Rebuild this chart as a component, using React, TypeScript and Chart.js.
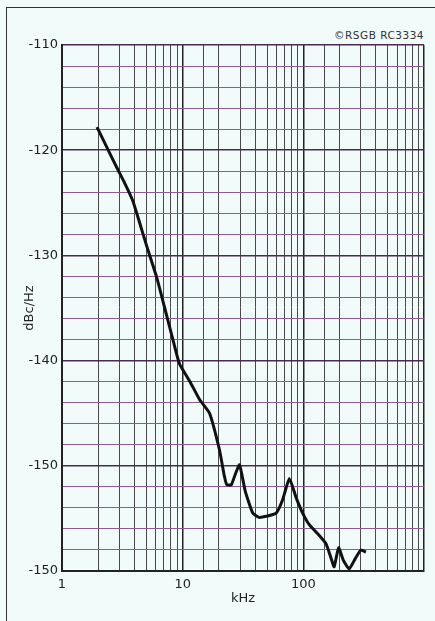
import React, { useEffect, useRef } from "react";
import { Chart, registerables } from "chart.js";

Chart.register(...registerables);

// Offset frequency (kHz)
const freqKHz = [1.95, 2.35, 2.83, 3.3, 3.86, 4.4, 5.0, 6.06, 7.1, 8.3, 9.4, 11.5, 13.8, 16.7, 20.2, 22.0, 23.2, 25.3, 27.3, 29.6, 33.0, 38.1, 43.0, 49.2, 59.5, 67.5, 76.6, 87.0, 98.7, 112, 135, 154, 170, 180, 196, 215, 240, 270, 300, 330];
// Phase noise (dBc/Hz)
const noiseDbc = [-117.8, -119.7, -121.6, -123.1, -124.8, -126.9, -129.0, -132.0, -135.0, -138.0, -140.3, -142.0, -143.7, -145.0, -148.5, -150.8, -151.8, -151.8, -150.8, -149.9, -152.4, -154.5, -154.9, -154.8, -154.5, -153.2, -151.2, -153.0, -154.5, -155.6, -156.6, -157.4, -158.8, -159.6, -157.8, -159.0, -159.8, -158.8, -158.0, -158.2];

const yTickValues = [-110, -120, -130, -140, -150, -160];
const yTickLabels = ["-110", "-120", "-130", "-140", "-150", "-150"];
const xTickValues = [1, 10, 100];
const xTickLabels = ["1", "10", "100"];

export default function App() {
  const canvasRef = useRef<HTMLCanvasElement | null>(null);

  useEffect(() => {
    const canvas = canvasRef.current;
    if (!canvas) return;
    const font = { family: "'DejaVu Sans', sans-serif", size: 13 };
    const chart = new Chart(canvas, {
      type: "scatter",
      data: {
        datasets: [
          {
            data: freqKHz.map((f, i) => ({ x: f, y: noiseDbc[i] })),
            showLine: true,
            borderColor: "#111",
            borderWidth: 3,
            pointRadius: 0,
            tension: 0.15,
            fill: false,
          },
        ],
      },
      options: {
        animation: false,
        responsive: false,
        maintainAspectRatio: false,
        layout: { padding: { left: 18, top: 45, right: 11, bottom: 11 } },
        plugins: { legend: { display: false }, tooltip: { enabled: false } },
        scales: {
          x: {
            type: "logarithmic",
            min: 1,
            max: 1000,
            afterFit: (s: any) => {
              s.height = 39;
            },
            border: { display: true, color: "#222", width: 2 },
            grid: {
              drawTicks: false,
              color: (ctx: any) => {
                const v = ctx.tick ? ctx.tick.value : 0;
                const m = Math.log10(v);
                return Math.abs(m - Math.round(m)) < 1e-6 ? "#222" : "#4a4a4a";
              },
              lineWidth: (ctx: any) => {
                const v = ctx.tick ? ctx.tick.value : 0;
                const m = Math.log10(v);
                return Math.abs(m - Math.round(m)) < 1e-6 ? 1.5 : 1;
              },
            },
            ticks: {
              autoSkip: false,
              maxRotation: 0,
              padding: 6,
              color: "#222",
              font,
              callback: (v: any) => {
                const idx = xTickValues.indexOf(Number(v));
                return idx >= 0 ? xTickLabels[idx] : "";
              },
            },
            title: { display: true, text: "kHz", color: "#222", font, padding: { top: 4, bottom: 4 } },
          },
          y: {
            min: -160,
            max: -110,
            afterFit: (s: any) => {
              s.width = 44;
            },
            border: { display: true, color: "#222", width: 2 },
            grid: {
              drawTicks: false,
              color: (ctx: any) => {
                const v = ctx.tick ? ctx.tick.value : 0;
                return v % 10 === 0 ? "#4a2a55" : "#8e5a96";
              },
              lineWidth: (ctx: any) => {
                const v = ctx.tick ? ctx.tick.value : 0;
                return v % 10 === 0 ? 1.5 : 1;
              },
            },
            ticks: {
              stepSize: 2,
              autoSkip: false,
              padding: 4,
              color: "#222",
              font,
              callback: (v: any) => {
                const idx = yTickValues.indexOf(Number(v));
                return idx >= 0 ? yTickLabels[idx] : "";
              },
            },
            title: { display: true, text: "dBc/Hz", color: "#222", font, padding: { top: 4, bottom: 4 } },
          },
        },
      },
    });
    return () => chart.destroy();
  }, []);

  return (
    <div style={{ position: "fixed", left: 0, top: 0, width: 435, height: 621, background: "#f1fbfa", overflow: "hidden" }}>
      <div style={{ position: "absolute", left: 6, top: 7, width: 440, height: 640, borderLeft: "1.5px solid #333", borderTop: "1.5px solid #333" }} />
      <div style={{ position: "absolute", right: 11, top: 29, fontFamily: "'DejaVu Sans', sans-serif", fontSize: 10.5, color: "#333", letterSpacing: 0.5 }}>
        ©RSGB RC3334
      </div>
      <canvas ref={canvasRef} width={435} height={621} style={{ position: "absolute", left: 0, top: 0 }} />
    </div>
  );
}
